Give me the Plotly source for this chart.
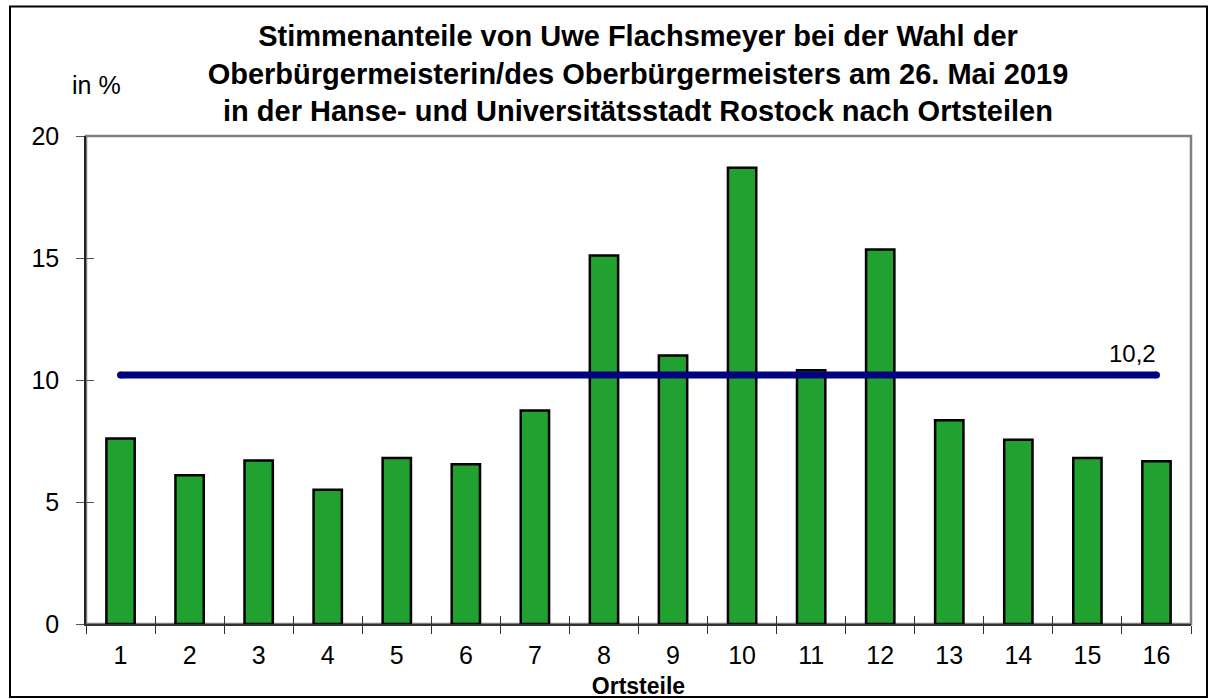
import plotly.graph_objects as go

categories = [str(i) for i in range(1, 17)]
values = [7.6, 6.1, 6.7, 5.5, 6.8, 6.55, 8.75, 15.1, 11.0, 18.7, 10.4, 15.35, 8.35, 7.55, 6.8, 6.67]
average = 10.2
average_label = "10,2"
y_ticks = [0, 5, 10, 15, 20]

title_text = ("<b>Stimmenanteile von Uwe Flachsmeyer bei der Wahl der<br>"
              "Oberbürgermeisterin/des Oberbürgermeisters am 26. Mai 2019<br>"
              "in der Hanse- und Universitätsstadt Rostock nach Ortsteilen</b>")

FONT = "Liberation Sans, Arial, sans-serif"
W, H = 1218, 699
L, R, T, B = 86, 27, 136, 75
pw, ph = W - L - R, H - T - B

def px_x(p):
    return (p - L) / pw

def px_y(p):
    return (H - B - p) / ph

fig = go.Figure()
fig.add_trace(go.Bar(
    x=categories, y=values,
    marker=dict(color="#21A12F", line=dict(color="black", width=2.5)),
    width=0.41, hoverinfo="skip", showlegend=False,
))
fig.add_trace(go.Scatter(
    x=[categories[0], categories[-1]], y=[average, average],
    mode="lines+markers",
    line=dict(color="#000080", width=7),
    marker=dict(color="#000080", size=7),
    hoverinfo="skip", showlegend=False,
))
# invisible trace on overlay axes to get the inward half of the crossing ticks
fig.add_trace(go.Scatter(
    x=categories, y=values, xaxis="x2", yaxis="y2",
    mode="lines", line=dict(width=0), opacity=0,
    hoverinfo="skip", showlegend=False,
))

fig.update_layout(
    width=W, height=H,
    margin=dict(l=L, r=R, t=T, b=B, pad=0, autoexpand=False),
    paper_bgcolor="white", plot_bgcolor="white",
    font=dict(family=FONT, color="black", size=25),
    title=dict(text=title_text, x=638 / W, xanchor="center",
               y=1 - 46 / H, yanchor="top",
               font=dict(family=FONT, size=29, color="black")),
    xaxis=dict(type="category", categoryarray=categories, range=[-0.5, 15.5],
               tickson="boundaries", ticks="outside", ticklen=8, tickcolor="#333",
               tickwidth=1, showline=True, linecolor="#333", linewidth=1.5,
               showgrid=False, zeroline=False, ticklabelstandoff=8,
               automargin=False, tickfont=dict(size=25),
               title=dict(text="<b>Ortsteile</b>", standoff=12,
                          font=dict(size=23))),
    yaxis=dict(range=[0, 20], tickvals=y_ticks, ticks="outside", ticklen=8,
               tickcolor="#555", tickwidth=1, showline=True, linecolor="#222",
               linewidth=1.5, showgrid=False, zeroline=False, automargin=False,
               ticklabelstandoff=12, tickfont=dict(size=25)),
    xaxis2=dict(type="category", categoryarray=categories, range=[-0.5, 15.5],
                overlaying="x", anchor="y2", tickson="boundaries", ticks="inside",
                ticklen=8, tickcolor="#333", tickwidth=1, showticklabels=False,
                showline=False, showgrid=False, zeroline=False, side="bottom",
                automargin=False),
    yaxis2=dict(range=[0, 20], tickvals=y_ticks, overlaying="y", anchor="x2",
                side="left", ticks="inside", ticklen=8, tickcolor="#555",
                tickwidth=1, showticklabels=False, showline=False,
                showgrid=False, zeroline=False, automargin=False),
    bargap=0.59,
    shapes=[
        dict(type="rect", xref="paper", yref="paper", x0=0, x1=1, y0=0, y1=1,
             line=dict(color="#808080", width=2.5), layer="below"),
        dict(type="rect", xref="paper", yref="paper",
             x0=px_x(10), x1=px_x(1207), y0=px_y(697), y1=px_y(6.5),
             line=dict(color="black", width=2), layer="below"),
    ],
    annotations=[
        dict(text="in %", xref="paper", yref="paper", x=px_x(96), y=px_y(85),
             xanchor="center", yanchor="middle", showarrow=False,
             font=dict(size=25)),
        dict(text=average_label, x=len(categories) - 1, y=average, xref="x", yref="y",
             xanchor="right", yanchor="bottom", xshift=2, yshift=6,
             showarrow=False, font=dict(size=24)),
    ],
)

fig.write_html("out.html", config={"displayModeBar": False})

# remove the browser's default body margin so the figure sits at (0, 0)
with open("out.html", encoding="utf-8") as f:
    html = f.read()
html = html.replace("<body>", '<body style="margin:0;padding:0;overflow:hidden;">', 1)
with open("out.html", "w", encoding="utf-8") as f:
    f.write(html)
